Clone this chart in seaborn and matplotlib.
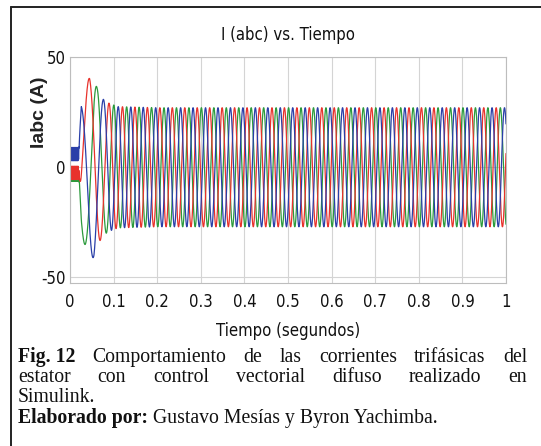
import numpy as np
import pandas as pd
import matplotlib
matplotlib.use("Agg")
import matplotlib.pyplot as plt
import seaborn as sns
from matplotlib import font_manager

# ---------------- data ----------------
# envelope of the phase currents (A) at given times (s)
env_t = [0.0, 0.020, 0.026, 0.035, 0.045, 0.055, 0.062, 0.075, 0.090, 0.110, 0.200, 1.0]
env_a = [6.0, 6.0, 30.0, 36.0, 41.0, 41.0, 36.0, 31.0, 29.0, 27.5, 27.0, 27.0]
# electrical frequency (Hz) at given times (s)
freq_t = [0.0, 0.020, 0.025, 0.050, 0.080, 0.100, 0.120, 1.0]
freq_f = [0.0, 0.0, 15.0, 17.0, 25.0, 32.0, 35.0, 35.0]
# start-up ripple amplitude (A) and its frequency (Hz)
ripple_t = [0.0, 0.019, 0.022, 1.0]
ripple_a = [3.0, 3.0, 0.0, 0.0]
ripple_f = 700.0
red_peak_time = 0.043           # first big red peak
phase_names = ["Ia", "Ib", "Ic"]
phase_shift = [0.0, -2 * np.pi / 3, 2 * np.pi / 3]
phase_colors = ["#e8322c", "#2c9a3c", "#2a3fa8"]

x_ticks = [0, 0.1, 0.2, 0.3, 0.4, 0.5, 0.6, 0.7, 0.8, 0.9, 1]
x_tick_labels = ["0", "0.1", "0.2", "0.3", "0.4", "0.5", "0.6", "0.7", "0.8", "0.9", "1"]
y_ticks = [-50, 0, 50]
y_tick_labels = ["-50", "0", "50"]

title = "I (abc) vs. Tiempo"
xlabel = "Tiempo (segundos)"
ylabel = "Iabc (A)"

# ---------------- build waveforms ----------------
t = np.linspace(0, 1, 20001)
amp = np.interp(t, env_t, env_a)
f = np.interp(t, freq_t, freq_f)
theta = np.concatenate([[0], np.cumsum(0.5 * (f[1:] + f[:-1]) * np.diff(t))]) * 2 * np.pi
theta = theta - np.interp(red_peak_time, t, theta) + np.pi / 2
rip = np.interp(t, ripple_t, ripple_a) * np.sin(2 * np.pi * ripple_f * t)

frames = []
for name, sh in zip(phase_names, phase_shift):
    frames.append(pd.DataFrame({"t": t, "i": amp * np.sin(theta + sh) + rip, "phase": name}))
df = pd.concat(frames, ignore_index=True)

# ---------------- fonts ----------------
sns.set_theme(style="white")
fonts = font_manager.fontManager.ttflist
names = {fe.name for fe in fonts}
narrow_family, narrow_stretch = "Liberation Sans", "normal"
if "Liberation Sans Narrow" in names:
    narrow_family = "Liberation Sans Narrow"
else:
    found = False
    for cand in ["Roboto", "Noto Sans", "Open Sans", "DejaVu Sans"]:
        for fe in fonts:
            if (fe.name == cand and str(fe.stretch) in ("condensed", "semi-condensed")
                    and fe.weight in (400, "normal", "regular") and fe.style == "normal"):
                narrow_family, narrow_stretch = cand, str(fe.stretch)
                found = True
                break
        if found:
            break
plt.rcParams["font.family"] = [narrow_family, "DejaVu Sans"]
plt.rcParams["font.stretch"] = narrow_stretch

W, H = 541, 446
fig = plt.figure(figsize=(W / 100, H / 100), dpi=100)
ax = fig.add_axes([70 / W, 1 - 283 / H, 436 / W, 226 / H])

sns.lineplot(data=df, x="t", y="i", hue="phase", hue_order=["Ib", "Ia", "Ic"],
             palette={n: c for n, c in zip(phase_names, phase_colors)},
             estimator=None, sort=False, linewidth=0.9, legend=False, ax=ax)

ax.set_xlim(0, 1)
ax.set_ylim(-52.5, 50)
ax.set_xticks(x_ticks)
ax.set_xticklabels(x_tick_labels)
ax.set_yticks(y_ticks)
ax.set_yticklabels(y_tick_labels)
ax.tick_params(axis="both", labelsize=12, colors="#111111", length=0)
ax.tick_params(axis="x", pad=7)
ax.tick_params(axis="y", pad=3)
ax.grid(True, color="#d4d4d4", linewidth=0.8)
ax.axhline(0, color="#9a9a9a", linewidth=0.7, zorder=0)
for s in ax.spines.values():
    s.set_color("#bdbdbd")
    s.set_linewidth(0.8)
ax.set_title(title, fontsize=12, color="#111111", pad=12)
ax.set_xlabel(xlabel, fontsize=12, color="#111111", labelpad=8)
ax.set_ylabel(ylabel, fontsize=14, fontweight="bold", color="#222222",
              family=["Liberation Sans", "DejaVu Sans"], fontstretch="normal")
ax.yaxis.set_label_coords(-0.050, 0.757)

# frame lines (left and top)
fig.add_artist(plt.Line2D([11 / W, 11 / W], [0, 1 - 7 / H], color="#222222", lw=1.4, transform=fig.transFigure))
fig.add_artist(plt.Line2D([11 / W, 1], [1 - 7 / H, 1 - 7 / H], color="#222222", lw=1.4, transform=fig.transFigure))

# ---------------- caption ----------------
serif = ["Liberation Serif", "DejaVu Serif"]
cap_size = 14.2
renderer = fig.canvas.get_renderer()


def put_words(words, y_px, x0_px, x1_px=None):
    arts = []
    for txt, bold in words:
        a = fig.text(0, 1 - y_px / H, txt, family=serif, fontsize=cap_size, stretch="normal",
                     fontweight="bold" if bold else "normal", color="#111111",
                     ha="left", va="baseline")
        arts.append(a)
    widths = [a.get_window_extent(renderer).width for a in arts]
    space = fig.text(0, 0, "a a", family=serif, fontsize=cap_size, stretch="normal")
    sw = space.get_window_extent(renderer).width
    space.set_text("aa")
    sw -= space.get_window_extent(renderer).width
    space.remove()
    if x1_px is None or len(words) < 2:
        gap = sw
    else:
        gap = (x1_px - x0_px - sum(widths)) / (len(words) - 1)
    x = x0_px
    for a, w in zip(arts, widths):
        a.set_x(x / W)
        x += w + gap


line1 = [("Fig. 12", True), ("Comportamiento", False), ("de", False), ("las", False),
         ("corrientes", False), ("trifásicas", False), ("del", False)]
line2 = [("estator", False), ("con", False), ("control", False), ("vectorial", False),
         ("difuso", False), ("realizado", False), ("en", False)]
line3 = [("Simulink.", False)]
line4 = [("Elaborado por:", True), ("Gustavo Mesías y Byron Yachimba.", False)]

put_words(line1, 362, 18, 527)
put_words(line2, 382, 18, 527)
put_words(line3, 402, 18)
put_words(line4, 423, 18)

fig.savefig("out.png", dpi=100)
